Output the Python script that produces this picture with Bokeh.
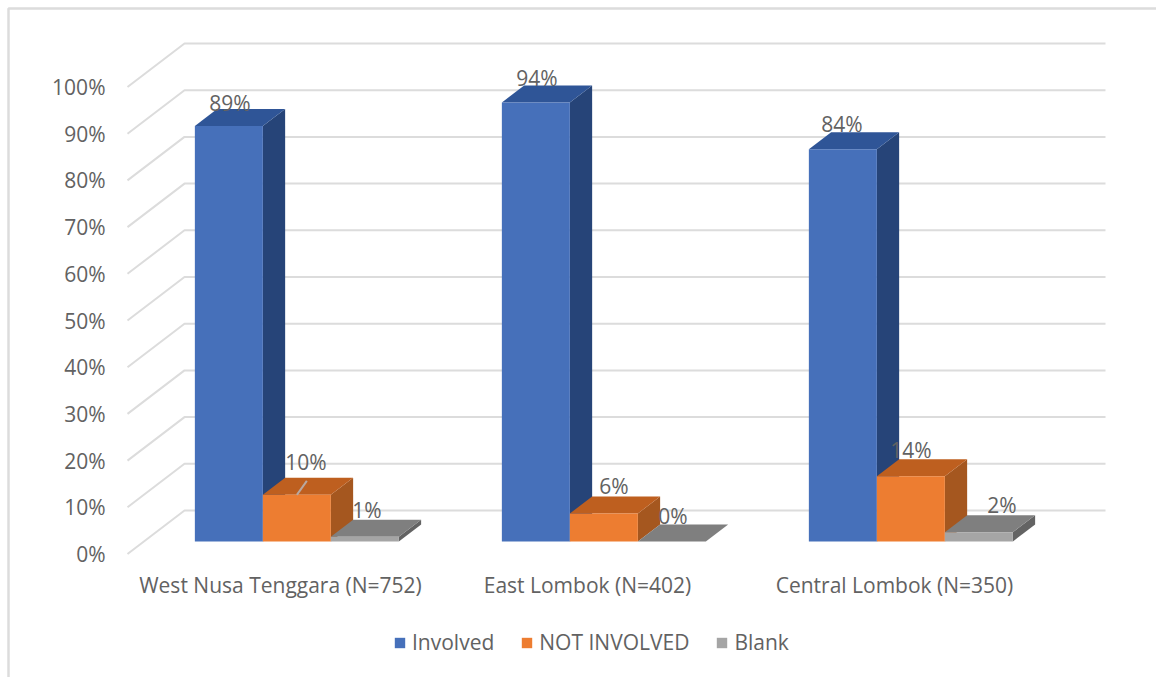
from bokeh.core.properties import value
from bokeh.embed import file_html
from bokeh.models import FixedTicker, Legend, LegendItem, Range1d
from bokeh.plotting import figure
from bokeh.resources import INLINE

# Survey shares per district
categories = ["West Nusa Tenggara (N=752)", "East Lombok (N=402)", "Central Lombok (N=350)"]
series_names = ["Involved", "NOT INVOLVED", "Blank"]
involved = [89, 94, 84]
not_involved = [10, 6, 14]
blank = [1, 0, 2]
y_ticks = [0, 10, 20, 30, 40, 50, 60, 70, 80, 90, 100]

FONT = "Open Sans"
FONT_SIZE = "21px"
TEXT = "#626262"
GRID = "#dcdcdc"
FRONT = ["#4670BA", "#ED7D31", "#A5A5A5"]
TOP = ["#2F5597", "#BE5F1F", "#7F7F7F"]
SIDE = ["#264478", "#A5571F", "#636363"]

# Page layout scale: pixels per category and per percentage point
WIDTH, HEIGHT = 1156, 677
PX_X, PX_Y = 307, 4.67
ORIGIN_X, ORIGIN_Y = 280, 553.5


def from_px(x_px, y_px):
    return (x_px - ORIGIN_X) / PX_X, (ORIGIN_Y - y_px) / PX_Y


# Oblique projection: a point at depth d shifts right and up
WALL_DX = 57 / PX_X
WALL_DY = 43.5 / PX_Y
BAR_D0, BAR_D1 = 0.287, 0.678
BAR_W = 0.2215


def proj(x, v, d):
    return x + d * WALL_DX, v + d * WALL_DY


x0_edge, y0_edge = from_px(0, HEIGHT)
x1_edge, y1_edge = from_px(WIDTH, 0)
p = figure(width=WIDTH, height=HEIGHT, output_backend="svg", toolbar_location=None,
           x_range=Range1d(x0_edge, x1_edge), y_range=Range1d(y0_edge, y1_edge),
           min_border=0, outline_line_color=None,
           background_fill_color="white", border_fill_color="white")
p.grid.visible = False

for ax in (p.xaxis[0], p.yaxis[0]):
    ax.axis_line_color = None
    ax.major_tick_line_color = None
    ax.minor_tick_line_color = None
    ax.major_label_text_color = TEXT
    ax.major_label_text_font = FONT
    ax.major_label_text_font_size = FONT_SIZE

p.yaxis[0].ticker = FixedTicker(ticks=y_ticks)
p.yaxis[0].major_label_overrides = {t: f"{t}%" for t in y_ticks}
p.yaxis[0].major_label_standoff = 9
p.yaxis[0].fixed_location = from_px(120, 0)[0]
p.xaxis[0].ticker = FixedTicker(ticks=list(range(len(categories))))
p.xaxis[0].major_label_overrides = {i: c for i, c in enumerate(categories)}
p.xaxis[0].major_label_standoff = 4
p.xaxis[0].fixed_location = from_px(0, 560)[1]

# Chart area border: top and left rules only
bx, by = from_px(8, 8)
p.line([bx, bx, x1_edge], [y0_edge, by, by], line_color=GRID, line_width=2.5)

# Back wall and side wall gridlines
xs, ys = [], []
wall_x = from_px(127, 0)[0]
right_x = from_px(1105, 0)[0]
for t in y_ticks:
    x0, y0 = proj(wall_x, t, 0)
    x1, y1 = proj(wall_x, t, 1)
    xs.append([x0, x1, right_x])
    ys.append([y0, y1, y1])
p.multi_line(xs, ys, line_color=GRID, line_width=2)

# Bars, each one a front face plus top and side faces
bars = [involved, not_involved, blank]
front_renderers = []
for s, vals in enumerate(bars):
    lefts = [c + (s - 1.5) * BAR_W for c in range(len(categories))]
    rights = [l + BAR_W for l in lefts]
    top_x, top_y, side_x, side_y = [], [], [], []
    fl, fr = [], []
    for l, r, v in zip(lefts, rights, vals):
        a = proj(l, v, BAR_D0)
        b = proj(r, v, BAR_D0)
        c_ = proj(r, v, BAR_D1)
        d = proj(l, v, BAR_D1)
        e = proj(r, 0, BAR_D1)
        f = proj(r, 0, BAR_D0)
        top_x.append([a[0], b[0], c_[0], d[0]])
        top_y.append([a[1], b[1], c_[1], d[1]])
        side_x.append([b[0], c_[0], e[0], f[0]])
        side_y.append([b[1], c_[1], e[1], f[1]])
        fl.append(a[0])
        fr.append(b[0])
    base = proj(0, 0, BAR_D0)[1]
    p.patches(side_x, side_y, fill_color=SIDE[s], line_color=None)
    p.patches(top_x, top_y, fill_color=TOP[s], line_color=None)
    front_renderers.append(
        p.quad(left=fl, right=fr, bottom=[base] * 3, top=[base + v for v in vals],
               fill_color=FRONT[s], line_color=None))

# Leader line joining the 10% label to its bar
lead_x = proj(0.0, 10, BAR_D0)[0]
p.line([lead_x, lead_x + 10 / PX_X], [proj(0, 10, BAR_D0)[1], proj(0, 13, BAR_D0)[1]],
       line_color="#B8A8A0", line_width=2)

# Value labels above each bar
label_dx = [[1, 9, 2], [1, 10, 1], [-1, 0, 23]]
label_dy = [[-23, -33, -27], [-25, -27, -26], [-25, -26, -27]]
for s, vals in enumerate(bars):
    lx, ly, txt, ox, oy = [], [], [], [], []
    for c, v in enumerate(vals):
        x, y = proj(c + (s - 1) * BAR_W, v, BAR_D0)
        lx.append(x)
        ly.append(y)
        txt.append(f"{v}%")
        ox.append(label_dx[c][s])
        oy.append(label_dy[c][s])
    p.text(lx, ly, text=txt, x_offset=ox, y_offset=oy, text_align="center", text_baseline="middle",
           text_color=TEXT, text_font=value(FONT), text_font_size=FONT_SIZE)

legend = Legend(items=[LegendItem(label=n, renderers=[r]) for n, r in zip(series_names, front_renderers)],
                orientation="horizontal", location=(393, 21), background_fill_alpha=0,
                border_line_color=None, glyph_width=13, glyph_height=13, spacing=26,
                label_text_font=FONT, label_text_font_size="21px", label_text_color=TEXT,
                label_standoff=6, margin=0, padding=0)
p.add_layout(legend, "center")

open("out.html", "w").write(file_html(p, INLINE))
